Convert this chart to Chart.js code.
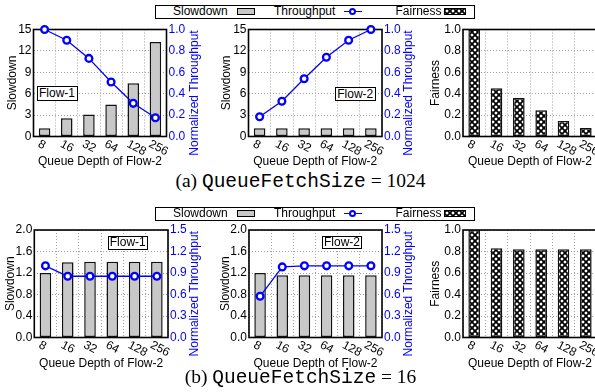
<!DOCTYPE html>
<html><head><meta charset="utf-8">
<script src="https://cdn.jsdelivr.net/npm/chart.js@4.4.1/dist/chart.umd.min.js"></script>
<style>
html,body{margin:0;padding:0;background:#fff;overflow:hidden;}
#root{position:relative;width:595px;height:392px;overflow:hidden;font-family:"Liberation Sans",Arial,sans-serif;color:#000;}
canvas.panel{position:absolute;}
.legend{position:absolute;left:155px;width:320px;height:14px;border:1.3px solid #000;box-sizing:border-box;font-size:12px;background:#fff;}
.legend > *{position:absolute;}
.legend span{top:0;line-height:11.4px;white-space:nowrap;}
.sw-gray{top:2.4px;width:18.6px;height:6.5px;background:#c8c8c8;border:1px solid #000;box-sizing:border-box;}
.sw-line{top:0;width:18.3px;height:11.4px;}
.sw-line b{position:absolute;left:0;right:0;top:5px;height:1.3px;background:#0000ff;}
.sw-line u{position:absolute;left:5.6px;top:2.2px;width:7px;height:7px;border:2px solid #0000ff;border-radius:50%;box-sizing:border-box;background:#fff;}
.sw-pat{top:2.4px;}
.flow{position:absolute;border:1px solid #000;background:#fff;font-size:12px;text-align:center;box-sizing:border-box;white-space:nowrap;}
.caption{position:absolute;left:0;width:601px;text-align:center;font-family:"Liberation Serif","Times New Roman",serif;font-size:19.5px;line-height:20px;white-space:nowrap;}
.caption .tt{font-family:"Liberation Mono","DejaVu Sans Mono",monospace;}
</style></head>
<body><div id="root"></div>
<script>
// ---------------- data ----------------
const categories = ['8', '16', '32', '64', '128', '256'];

const slowdownA1   = [1.15, 2.55, 3.1, 4.5, 7.45, 13.25];
const throughputA1 = [1.0, 0.9, 0.73, 0.51, 0.31, 0.175];
const slowdownA2   = [1.15, 1.15, 1.15, 1.15, 1.15, 1.15];
const throughputA2 = [0.185, 0.33, 0.54, 0.74, 0.9, 1.0];
const fairnessA    = [1.0, 0.45, 0.36, 0.245, 0.145, 0.08];

const slowdownB1   = [1.2, 1.4, 1.41, 1.41, 1.41, 1.41];
const throughputB1 = [1.0, 0.855, 0.855, 0.855, 0.855, 0.855];
const slowdownB2   = [1.2, 1.16, 1.16, 1.16, 1.16, 1.16];
const throughputB2 = [0.575, 0.985, 1.0, 1.0, 1.0, 1.0];
const fairnessB    = [1.0, 0.83, 0.82, 0.82, 0.82, 0.82];

const slowdownTicksA   = [0, 3, 6, 9, 12, 15];
const throughputTicksA = [0.0, 0.2, 0.4, 0.6, 0.8, 1.0];
const slowdownTicksB   = [0.0, 0.4, 0.8, 1.2, 1.6, 2.0];
const throughputTicksB = [0.0, 0.3, 0.6, 0.9, 1.2, 1.5];
const fairnessTicks    = [0.0, 0.2, 0.4, 0.6, 0.8, 1.0];

const seriesNames = ['Slowdown', 'Throughput', 'Fairness'];
const xTitle = 'Queue Depth of Flow-2';
const y2Title = 'Normalized Throughput';

// ---------------- styling ----------------
const FONT = '"Liberation Sans", Arial, sans-serif';
Chart.defaults.font.family = FONT;
Chart.defaults.font.size = 12;
Chart.defaults.color = '#000';
const BLUE = '#0000ff';
const GRAY = '#c8c8c8';
const GRID = '#a0a0a0';

const root = document.getElementById('root');

function patternTile() {
  const N = 6;
  const t = document.createElement('canvas');
  t.width = N; t.height = N;
  const g = t.getContext('2d');
  const img = g.createImageData(N, N);
  for (let y = 0; y < N; y++) {
    for (let x = 0; x < N; x++) {
      const d1 = Math.abs(x - 2.5) + Math.abs(y - 2.5);
      const xx = (x + 3) % N, yy = (y + 3) % N;
      const d2 = Math.abs(xx - 2.5) + Math.abs(yy - 2.5);
      const d = Math.min(d1, d2);
      const v = d <= 1 ? 255 : (d <= 2 ? 70 : 0);
      const k = (y * N + x) * 4;
      img.data[k] = img.data[k + 1] = img.data[k + 2] = v;
      img.data[k + 3] = 255;
    }
  }
  g.putImageData(img, 0, 0);
  return t;
}
const TILE = patternTile();

function tickCfg(ticks, decimals, color) {
  return {
    min: ticks[0], max: ticks[ticks.length - 1],
    ticks: {
      stepSize: ticks[1] - ticks[0],
      padding: 2,
      color: color,
      font: { size: 12 },
      callback: v => Number(v).toFixed(decimals)
    }
  };
}

const decor = {
  id: 'decor',
  beforeDatasetsDraw(chart) {
    const { ctx, chartArea: a } = chart;
    ctx.save();
    ctx.strokeStyle = '#000';
    ctx.lineWidth = 1.6;
    ctx.strokeRect(a.left, a.top, a.right - a.left, a.bottom - a.top);
    ctx.restore();
  },
  afterDraw(chart) {
    const o = chart.options.plugins.decor;
    const { ctx, chartArea: a } = chart;
    const xs = chart.scales.x;
    ctx.save();
    ctx.font = '12px ' + FONT;
    ctx.fillStyle = '#000';
    ctx.textAlign = 'left';
    ctx.textBaseline = 'top';
    categories.forEach((lab, i) => {
      const px = xs.getPixelForValue(i);
      ctx.save();
      ctx.translate(px - 3, a.bottom + 1.5);
      ctx.rotate(28 * Math.PI / 180);
      ctx.fillText(lab, 0, 0);
      ctx.restore();
    });
    if (o.rightTitleX != null) {
      ctx.save();
      ctx.translate(o.rightTitleX, (a.top + a.bottom) / 2 + 10);
      ctx.rotate(-Math.PI / 2);
      ctx.textAlign = 'center';
      ctx.textBaseline = 'middle';
      ctx.fillStyle = BLUE;
      ctx.fillText(y2Title, 0, 0);
      ctx.restore();
    }
    ctx.restore();
  }
};

function panel(p) {
  const c = document.createElement('canvas');
  c.className = 'panel';
  c.width = p.w; c.height = p.h;
  c.style.left = p.x + 'px'; c.style.top = p.y + 'px';
  c.style.width = p.w + 'px'; c.style.height = p.h + 'px';
  root.appendChild(c);
  const ctx = c.getContext('2d');
  const plotL = p.plot[0] - p.x, plotR = p.plot[1] - p.x;
  const plotT = p.plot[2] - p.y, plotB = p.plot[3] - p.y;
  const LH = 12 * 1.2;

  const datasets = [];
  if (p.bars) {
    datasets.push({
      type: 'bar', label: p.barLabel, data: p.bars, yAxisID: 'y', order: 2,
      backgroundColor: p.pattern ? ctx.createPattern(TILE, 'repeat') : GRAY,
      borderColor: '#111', borderWidth: 1.5, borderSkipped: false,
      barPercentage: 0.52, categoryPercentage: 1.0
    });
  }
  if (p.line) {
    datasets.push({
      type: 'line', label: seriesNames[1], data: p.line, yAxisID: 'y2', order: 0,
      borderColor: BLUE, borderWidth: 1.3, clip: false,
      pointRadius: 3.4, pointBorderWidth: 2.3, pointBackgroundColor: '#fff',
      pointBorderColor: BLUE, tension: 0
    });
  }

  const yc = tickCfg(p.yTicks, p.yDec, '#000');
  const scales = {
    x: {
      type: 'category', labels: categories, offset: true,
      grid: { display: true, offset: true, color: GRID, lineWidth: 1, drawTicks: false },
      border: { display: false, dash: [1, 2] },
      ticks: { display: false },
      title: { display: true, text: xTitle, color: '#000', font: { size: 12 },
               padding: { top: 0, bottom: (p.y + p.h) - p.xTitleY - LH / 2 } },
      afterFit: s => { s.height = p.h - plotB; }
    },
    y: Object.assign(yc, {
      position: 'left',
      grid: { color: GRID, lineWidth: 1, drawTicks: false },
      border: { display: false, dash: [1, 2] },
      title: { display: true, text: p.yTitle, color: '#000', font: { size: 12 },
               padding: { top: p.yTitleX - p.x - LH / 2, bottom: 0 } },
      afterFit: s => { s.width = plotL; }
    })
  };
  if (p.line) {
    scales.y2 = Object.assign(tickCfg(p.y2Ticks, 1, BLUE), {
      position: 'right',
      grid: { display: false, drawTicks: false },
      border: { display: false },
      afterFit: s => { s.width = p.w - plotR; }
    });
  }

  new Chart(c, {
    data: { labels: categories, datasets },
    plugins: [decor],
    options: {
      responsive: false, animation: false, events: [],
      layout: { padding: { top: plotT, left: 0, bottom: 0, right: p.line ? 0 : p.w - plotR } },
      scales,
      plugins: {
        legend: { display: false }, tooltip: { enabled: false },
        decor: { rightTitleX: p.line ? p.y2TitleX - p.x : null }
      }
    }
  });
}

// top row (a)
panel({ x: 0, y: 20, w: 222, h: 150, plot: [33.5, 166.5, 29.5, 136.5],
  bars: slowdownA1, barLabel: seriesNames[0], line: throughputA1,
  yTicks: slowdownTicksA, yDec: 0, y2Ticks: throughputTicksA,
  yTitle: 'Slowdown', yTitleX: 12.5, xTitleY: 162, y2TitleX: 195 });
panel({ x: 215, y: 20, w: 212, h: 150, plot: [248.5, 382, 29.5, 136.5],
  bars: slowdownA2, barLabel: seriesNames[0], line: throughputA2,
  yTicks: slowdownTicksA, yDec: 0, y2Ticks: throughputTicksA,
  yTitle: 'Slowdown', yTitleX: 227, xTitleY: 162, y2TitleX: 409 });
panel({ x: 427, y: 20, w: 178, h: 150, plot: [463, 597, 29.5, 136.5],
  bars: fairnessA, barLabel: seriesNames[2], pattern: true,
  yTicks: fairnessTicks, yDec: 1,
  yTitle: 'Fairness', yTitleX: 436, xTitleY: 162 });

// bottom row (b)
panel({ x: 0, y: 220, w: 222, h: 152, plot: [34.3, 168, 230, 337.5],
  bars: slowdownB1, barLabel: seriesNames[0], line: throughputB1,
  yTicks: slowdownTicksB, yDec: 1, y2Ticks: throughputTicksB,
  yTitle: 'Slowdown', yTitleX: 10.5, xTitleY: 363.3, y2TitleX: 195 });
panel({ x: 215, y: 220, w: 212, h: 152, plot: [249, 382, 230, 337.5],
  bars: slowdownB2, barLabel: seriesNames[0], line: throughputB2,
  yTicks: slowdownTicksB, yDec: 1, y2Ticks: throughputTicksB,
  yTitle: 'Slowdown', yTitleX: 226, xTitleY: 363.3, y2TitleX: 409 });
panel({ x: 427, y: 220, w: 178, h: 152, plot: [463, 597, 230, 337.5],
  bars: fairnessB, barLabel: seriesNames[2], pattern: true,
  yTicks: fairnessTicks, yDec: 1,
  yTitle: 'Fairness', yTitleX: 436, xTitleY: 363.3 });

// legends
function legend(top) {
  const d = document.createElement('div');
  d.className = 'legend';
  d.style.top = top + 'px';
  d.innerHTML =
    '<span style="left:17px">' + seriesNames[0] + '</span>' +
    '<i class="sw-gray" style="left:80.5px"></i>' +
    '<span style="left:118px">' + seriesNames[1] + '</span>' +
    '<i class="sw-line" style="left:187.5px"><b></b><u></u></i>' +
    '<span style="left:239.5px">' + seriesNames[2] + '</span>';
  const pc = document.createElement('canvas');
  pc.className = 'sw-pat';
  pc.width = 22; pc.height = 7;
  pc.style.left = '288px';
  const g = pc.getContext('2d');
  g.fillStyle = g.createPattern(TILE, 'repeat');
  g.fillRect(0, 0, 22, 7);
  g.strokeStyle = '#000'; g.lineWidth = 1;
  g.strokeRect(0.5, 0.5, 21, 6);
  d.appendChild(pc);
  root.appendChild(d);
}
legend(5);
legend(207);

// flow labels
function flow(text, l, t, w, h) {
  const d = document.createElement('div');
  d.className = 'flow';
  d.textContent = text;
  Object.assign(d.style, { left: l + 'px', top: t + 'px', width: w + 'px', height: h + 'px', lineHeight: (h - 2) + 'px' });
  root.appendChild(d);
}
flow('Flow-1', 36.5, 86, 41, 14.5);
flow('Flow-2', 334.5, 86.5, 41.5, 14);
flow('Flow-1', 107.5, 236, 40.5, 13.5);
flow('Flow-2', 322, 236, 40, 13);

// captions
function caption(label, value, cy) {
  const d = document.createElement('div');
  d.className = 'caption';
  d.style.top = (cy - 10) + 'px';
  d.innerHTML = label + ' <span class="tt">QueueFetchSize</span> = ' + value;
  root.appendChild(d);
}
caption('(a)', '1024', 181);
caption('(b)', '16', 377);
</script>
</body></html>
